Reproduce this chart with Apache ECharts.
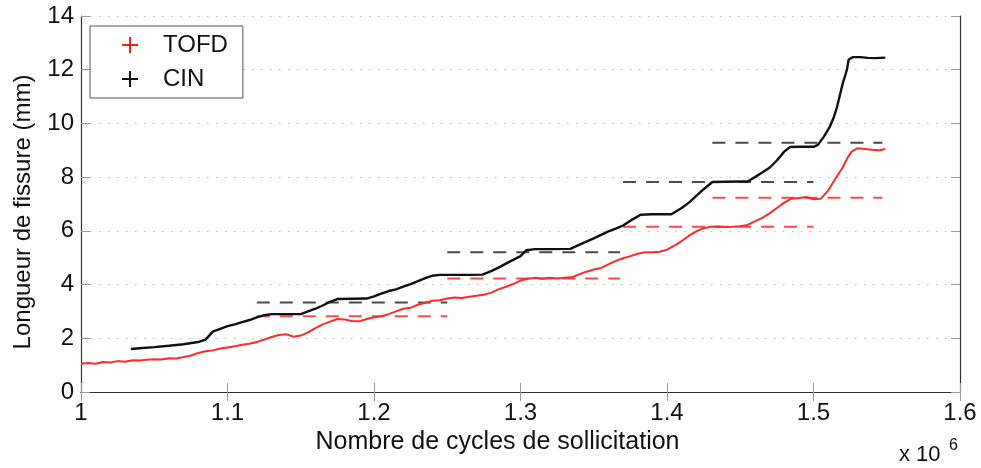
<!DOCTYPE html>
<html>
<head>
<meta charset="utf-8">
<script src="https://cdn.jsdelivr.net/npm/echarts@6/dist/echarts.min.js"></script>
<style>
  html, body { margin: 0; padding: 0; background: #fff; }
  #chart { width: 981px; height: 468px; }
</style>
</head>
<body>
<div id="chart"></div>
<script>
// Crack length (mm) versus load cycles (x 10^6)

// TOFD measurements
const tofdCycles = [
  1.000, 1.005, 1.010, 1.015, 1.020, 1.025, 1.030, 1.035, 1.040, 1.045,
  1.050, 1.055, 1.060, 1.065, 1.070, 1.075, 1.080, 1.085, 1.090, 1.095,
  1.100, 1.105, 1.110, 1.115, 1.120, 1.125, 1.130, 1.135, 1.140, 1.145,
  1.150, 1.155, 1.160, 1.165, 1.170, 1.175, 1.180, 1.185, 1.190, 1.195,
  1.200, 1.205, 1.210, 1.215, 1.220, 1.225, 1.230, 1.235, 1.240, 1.245,
  1.250, 1.255, 1.260, 1.265, 1.270, 1.275, 1.280, 1.285, 1.290, 1.295,
  1.300, 1.305, 1.310, 1.315, 1.320, 1.325, 1.330, 1.335, 1.340, 1.345,
  1.350, 1.355, 1.360, 1.365, 1.370, 1.375, 1.380, 1.385, 1.390, 1.395,
  1.400, 1.405, 1.410, 1.415, 1.420, 1.425, 1.430, 1.435, 1.440, 1.445,
  1.450, 1.455, 1.460, 1.465, 1.470, 1.475, 1.480, 1.485, 1.490, 1.495,
  1.500, 1.505, 1.510, 1.515, 1.520, 1.523, 1.526, 1.530, 1.535, 1.540,
  1.545, 1.549
];
const tofdLength = [
  1.05, 1.08, 1.05, 1.12, 1.10, 1.15, 1.13, 1.18, 1.17, 1.20,
  1.22, 1.21, 1.26, 1.25, 1.30, 1.36, 1.45, 1.52, 1.55, 1.62,
  1.66, 1.70, 1.76, 1.80, 1.86, 1.95, 2.05, 2.12, 2.15, 2.06,
  2.10, 2.22, 2.38, 2.52, 2.62, 2.72, 2.70, 2.64, 2.63, 2.72,
  2.78, 2.82, 2.90, 3.00, 3.10, 3.14, 3.25, 3.32, 3.40, 3.42,
  3.48, 3.52, 3.50, 3.55, 3.58, 3.62, 3.70, 3.82, 3.92, 4.02,
  4.15, 4.22, 4.25, 4.22, 4.25, 4.23, 4.25, 4.27, 4.38, 4.48,
  4.56, 4.62, 4.75, 4.88, 4.98, 5.06, 5.15, 5.20, 5.20, 5.22,
  5.30, 5.45, 5.62, 5.82, 5.98, 6.10, 6.15, 6.16, 6.14, 6.15,
  6.17, 6.22, 6.35, 6.48, 6.65, 6.85, 7.05, 7.20, 7.22, 7.26,
  7.18, 7.20, 7.50, 7.95, 8.37, 8.70, 8.95, 9.08, 9.05, 9.02,
  9.00, 9.05
];

// CIN (image correlation) measurements
const cinCycles = [
  1.034, 1.040, 1.050, 1.060, 1.070, 1.080, 1.085, 1.090, 1.095, 1.100,
  1.105, 1.110, 1.115, 1.120, 1.125, 1.130, 1.140, 1.150, 1.155, 1.160,
  1.165, 1.170, 1.175, 1.185, 1.195, 1.200, 1.205, 1.210, 1.215, 1.220,
  1.225, 1.230, 1.235, 1.240, 1.245, 1.255, 1.265, 1.274, 1.280, 1.285,
  1.290, 1.295, 1.300, 1.304, 1.310, 1.320, 1.334, 1.340, 1.345, 1.350,
  1.355, 1.360, 1.365, 1.370, 1.375, 1.382, 1.390, 1.403, 1.410, 1.415,
  1.420, 1.425, 1.431, 1.440, 1.450, 1.455, 1.460, 1.465, 1.470, 1.475,
  1.480, 1.484, 1.490, 1.500, 1.503, 1.507, 1.511, 1.514, 1.516, 1.518,
  1.520, 1.522, 1.523, 1.524, 1.527, 1.532, 1.537, 1.542, 1.549
];
const cinLength = [
  1.60, 1.63, 1.67, 1.72, 1.78, 1.86, 1.95, 2.25, 2.35, 2.45,
  2.52, 2.60, 2.68, 2.78, 2.86, 2.90, 2.90, 2.90, 3.00, 3.10,
  3.22, 3.36, 3.46, 3.47, 3.48, 3.56, 3.66, 3.76, 3.82, 3.92,
  4.02, 4.13, 4.24, 4.33, 4.36, 4.36, 4.36, 4.37, 4.50, 4.63,
  4.78, 4.92, 5.06, 5.28, 5.32, 5.32, 5.33, 5.48, 5.60, 5.72,
  5.85, 5.98, 6.08, 6.20, 6.38, 6.60, 6.62, 6.62, 6.85, 7.05,
  7.30, 7.55, 7.82, 7.83, 7.84, 7.84, 8.00, 8.17, 8.35, 8.62,
  8.95, 9.12, 9.13, 9.13, 9.20, 9.50, 9.86, 10.25, 10.60, 11.05,
  11.50, 11.85, 12.05, 12.38, 12.47, 12.47, 12.44, 12.43, 12.45
];

// Reference levels (dashed), one per stage
const stageStart = [1.12, 1.25, 1.37, 1.431];
const stageEnd   = [1.25, 1.368, 1.50, 1.547];
const stageCin   = [3.33, 5.20, 7.82, 9.28];
const stageTofd  = [2.82, 4.23, 6.15, 7.23];

// Axis ticks
const xTicks = [1, 1.1, 1.2, 1.3, 1.4, 1.5, 1.6];
const yTicks = [0, 2, 4, 6, 8, 10, 12, 14];

const FONT = 'Liberation Sans, Arial, Helvetica, sans-serif';
const PLUS = 'path://M7,0h2v16h-2zM0,7h16v2h-16z';

const zip = (xs, ys) => xs.map((x, i) => [x, ys[i]]);
const fmt = v => String(+(+v).toFixed(1));

const dashSeries = [];
stageStart.forEach((s, i) => {
  dashSeries.push({
    type: 'line', silent: true, symbol: 'none', z: 2,
    data: [[s, stageCin[i]], [stageEnd[i], stageCin[i]]],
    lineStyle: { color: '#4a4a4a', width: 2, type: [13, 10] }
  });
  dashSeries.push({
    type: 'line', silent: true, symbol: 'none', z: 2,
    data: [[s, stageTofd[i]], [stageEnd[i], stageTofd[i]]],
    lineStyle: { color: '#ff4a4a', width: 2, type: [13, 10] }
  });
});

const axisCommon = {
  type: 'value',
  axisLine: { show: true, lineStyle: { color: '#333', width: 1.2 } },
  axisTick: { show: true, inside: true, length: 9, lineStyle: { color: '#999', width: 1 } },
  splitLine: { show: false }
};

const chart = echarts.init(document.getElementById('chart'), null, { renderer: 'canvas' });
chart.setOption({
  animation: false,
  backgroundColor: '#fff',
  textStyle: { fontFamily: FONT },
  grid: { left: 81, right: 21, top: 16, bottom: 76 },
  legend: {
    orient: 'vertical', left: 90, top: 26,
    padding: [7, 15, 7, 32], itemGap: 10,
    itemWidth: 16, itemHeight: 16,
    backgroundColor: '#fff', borderColor: '#555', borderWidth: 1,
    textStyle: { fontFamily: FONT, fontSize: 24, color: '#111', padding: [0, 0, 0, 20] },
    data: [{ name: 'TOFD', icon: PLUS }, { name: 'CIN', icon: PLUS }],
    z: 10
  },
  xAxis: [
    Object.assign({}, axisCommon, {
      min: xTicks[0], max: xTicks[xTicks.length - 1], interval: 0.1,
      position: 'bottom',
      axisLabel: { fontFamily: FONT, fontSize: 24, color: '#111', margin: 9, formatter: fmt },
      name: 'Nombre de cycles de sollicitation', nameLocation: 'middle', nameGap: 37,
      nameTextStyle: { fontFamily: FONT, fontSize: 25, color: '#111', padding: [0, 46, 0, 0] }
    }),
    Object.assign({}, axisCommon, {
      min: xTicks[0], max: xTicks[xTicks.length - 1], interval: 0.1,
      position: 'top', axisLabel: { show: false }
    })
  ],
  yAxis: [
    Object.assign({}, axisCommon, {
      min: yTicks[0], max: yTicks[yTicks.length - 1], interval: 2,
      position: 'left',
      axisLabel: { fontFamily: FONT, fontSize: 24, color: '#111', margin: 7 },
      splitLine: { show: true, lineStyle: { color: '#bdbdbd', width: 1, type: [1.5, 7.5] } },
      name: 'Longueur de fissure (mm)', nameLocation: 'middle', nameGap: 46,
      nameTextStyle: { fontFamily: FONT, fontSize: 24, color: '#111', padding: [0, 16, 0, 0] }
    }),
    Object.assign({}, axisCommon, {
      min: yTicks[0], max: yTicks[yTicks.length - 1], interval: 2,
      position: 'right', axisLabel: { show: false }
    })
  ],
  series: [
    {
      name: 'TOFD', type: 'line', symbol: 'none', z: 3,
      itemStyle: { color: '#ff1a1a' },
      lineStyle: { color: '#ff2a2a', width: 2 },
      data: zip(tofdCycles, tofdLength)
    },
    {
      name: 'CIN', type: 'line', symbol: 'none', z: 4,
      itemStyle: { color: '#111' },
      lineStyle: { color: '#111', width: 2.4 },
      data: zip(cinCycles, cinLength)
    }
  ].concat(dashSeries),
  graphic: [
    { type: 'text', left: 899, top: 444, style: { text: 'x 10', font: '22px ' + FONT, fill: '#111' } },
    { type: 'text', left: 949, top: 438, style: { text: '6', font: '16px ' + FONT, fill: '#111' } }
  ]
});
</script>
</body>
</html>
